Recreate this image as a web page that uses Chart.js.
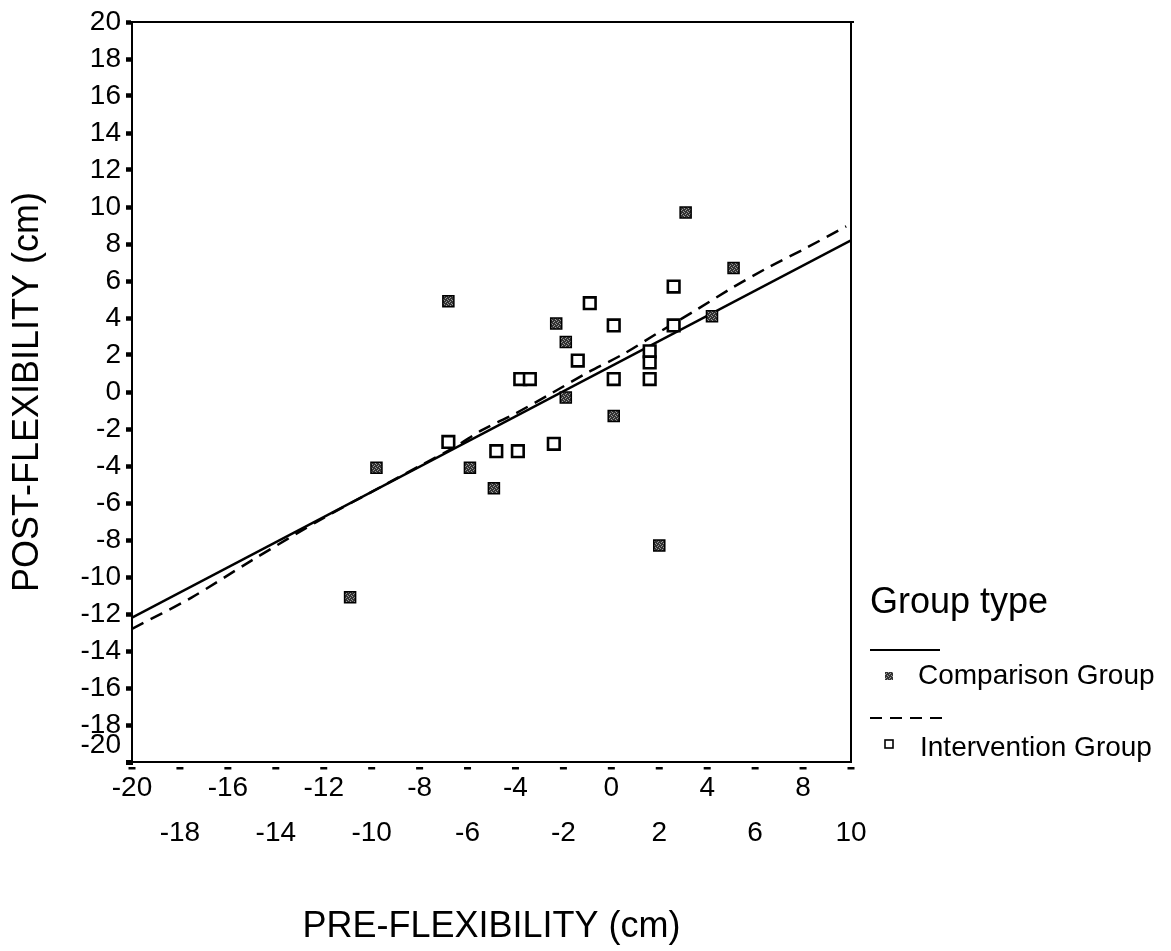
<!DOCTYPE html>
<html>
<head>
<meta charset="utf-8">
<script src="https://cdn.jsdelivr.net/npm/chart.js@4.4.1/dist/chart.umd.min.js"></script>
<style>
  html, body { margin: 0; padding: 0; background: #ffffff; }
  #wrap { width: 1171px; height: 951px; position: relative; }
</style>
</head>
<body>
<div id="wrap"><canvas id="c" width="1171" height="951"></canvas></div>
<script>
// ---------- data ----------
const seriesNames = ['Comparison Group', 'Intervention Group'];
const legendTitle = 'Group type';
const xTitle = 'PRE-FLEXIBILITY (cm)';
const yTitle = 'POST-FLEXIBILITY (cm)';

const xMin = -20, xMax = 10, xStep = 2;
const yMin = -20, yMax = 20, yStep = 2;

const compX = [-6.8, -2.3, -1.9, -1.9, -9.8, -5.9, -4.9, 3.1, 5.1, 4.2, 0.1, 2.0, -10.9];
const compY = [ 4.9,  3.7,  2.7, -0.3, -4.1, -4.1, -5.2, 9.7, 6.7, 4.1, -1.3, -8.3, -11.1];

const intX = [2.6, -0.9, 0.1, 2.6, 1.6, 1.6, 1.6, 0.1, -1.4, -3.8, -3.4, -6.8, -4.8, -3.9, -2.4];
const intY = [5.7,  4.8, 3.6, 3.6, 2.2, 1.6, 0.7, 0.7,  1.7,  0.7,  0.7, -2.7, -3.2, -3.2, -2.8];

// fit lines
const solidX = [-20, 10];
const solidY = [-12.2, 8.2];
const dashX = [-20, -17.5, -15, -12, -10, -8, -6.5, -5.4, -4, -2.5, -1, 0.5, 2, 3.5, 5, 6.5, 8, 9.8];
const dashY = [-12.8, -11.1, -9.1, -6.8, -5.4, -4.0, -2.95, -2.06, -1.16, -0.07, 1.04, 2.05, 3.24, 4.4, 5.6, 6.7, 7.7, 8.95];

// ---------- helpers ----------
const pts = (xs, ys) => xs.map((x, i) => ({ x: x, y: ys[i] }));
const FONT = "'Liberation Sans', Arial, Helvetica, sans-serif";
Chart.defaults.font.family = FONT;
Chart.defaults.color = '#000';

// speckled dark fill, like the scanned halftone markers
function makePattern() {
  const p = document.createElement('canvas');
  p.width = 4; p.height = 4;
  const g = p.getContext('2d');
  g.fillStyle = '#333';
  g.fillRect(0, 0, 4, 4);
  g.fillStyle = '#9a9a9a';
  g.fillRect(0, 0, 1, 1); g.fillRect(2, 1, 1, 1); g.fillRect(1, 2, 1, 1); g.fillRect(3, 3, 1, 1);
  return g.createPattern(p, 'repeat');
}
const compFill = makePattern();

const framePlugin = {
  id: 'frame',
  afterDraw(chart) {
    const ctx = chart.ctx;
    const a = chart.chartArea;
    const xs = chart.scales.x;
    ctx.save();
    // top and right border
    ctx.strokeStyle = '#000';
    ctx.lineWidth = 2;
    ctx.beginPath();
    ctx.moveTo(a.left - 3, a.top);
    ctx.lineTo(a.right + 3, a.top);
    ctx.moveTo(a.right, a.top);
    ctx.lineTo(a.right, a.bottom);
    ctx.stroke();
    // x tick marks: short horizontal dashes below the axis
    ctx.fillStyle = '#000';
    xs.ticks.forEach((t, i) => {
      const px = xs.getPixelForTick(i);
      ctx.fillRect(px - 3.5, a.bottom + 5, 7, 2.5);
    });
    // corner blob
    ctx.fillRect(a.left - 6, a.bottom - 2, 7, 5);

    // ---- legend ----
    const lx = 870;
    ctx.fillStyle = '#000';
    ctx.textBaseline = 'alphabetic';
    ctx.textAlign = 'left';
    ctx.font = '36px ' + FONT;
    ctx.fillText(legendTitle, lx, 613);

    ctx.lineWidth = 2;
    ctx.setLineDash([]);
    ctx.beginPath();
    ctx.moveTo(lx, 650); ctx.lineTo(lx + 70, 650);
    ctx.stroke();

    ctx.fillStyle = compFill;
    ctx.fillRect(885, 672, 8, 8);
    ctx.fillStyle = '#000';
    ctx.font = '28px ' + FONT;
    ctx.fillText(seriesNames[0], 918, 684);

    ctx.setLineDash([12, 8]);
    ctx.beginPath();
    ctx.moveTo(lx, 718); ctx.lineTo(lx + 72, 718);
    ctx.stroke();
    ctx.setLineDash([]);

    ctx.lineWidth = 1.6;
    ctx.strokeRect(885, 740, 8, 8);
    ctx.fillText(seriesNames[1], 920, 756);
    ctx.restore();
  }
};

new Chart(document.getElementById('c'), {
  type: 'scatter',
  data: {
    datasets: [
      {
        label: seriesNames[0],
        data: pts(compX, compY),
        pointStyle: 'rect',
        pointRadius: 7.8,
        pointHoverRadius: 7.8,
        backgroundColor: compFill,
        borderColor: '#000',
        borderWidth: 1.5
      },
      {
        label: seriesNames[1],
        data: pts(intX, intY),
        pointStyle: 'rect',
        pointRadius: 8.2,
        pointHoverRadius: 8.2,
        backgroundColor: '#fff',
        borderColor: '#000',
        borderWidth: 2.6
      },
      {
        label: seriesNames[0] + ' fit',
        data: pts(solidX, solidY),
        showLine: true,
        pointRadius: 0,
        borderColor: '#000',
        borderWidth: 2.5,
        fill: false
      },
      {
        label: seriesNames[1] + ' fit',
        data: pts(dashX, dashY),
        showLine: true,
        pointRadius: 0,
        borderColor: '#000',
        borderWidth: 2.5,
        borderDash: [13, 8],
        tension: 0.3,
        fill: false
      }
    ]
  },
  options: {
    responsive: false,
    animation: false,
    layout: { padding: { top: 22, right: 320, bottom: 0, left: 0 } },
    plugins: {
      legend: { display: false },
      tooltip: { enabled: false }
    },
    scales: {
      x: {
        type: 'linear',
        min: xMin, max: xMax,
        afterFit(s) { s.height = 189; },
        ticks: {
          stepSize: xStep,
          autoSkip: false,
          maxRotation: 0,
          minRotation: 0,
          padding: 4,
          font: { size: 28, lineHeight: 1.6 },
          color: '#000',
          callback(v, i) { return i % 2 === 0 ? String(v) : ['', String(v)]; }
        },
        grid: { display: true, drawOnChartArea: false, drawTicks: false },
        border: { display: true, color: '#000', width: 2 },
        title: {
          display: true,
          text: xTitle,
          font: { size: 36 },
          color: '#000',
          padding: { top: 0, bottom: 2 }
        }
      },
      y: {
        type: 'linear',
        min: yMin, max: yMax,
        afterFit(s) { s.width = 132; },
        ticks: {
          stepSize: yStep,
          autoSkip: false,
          padding: 5,
          font: { size: 28 },
          color: '#000',
          callback(v) { return v === yMin ? [String(v), ''] : String(v); }
        },
        grid: { display: true, drawOnChartArea: false, drawTicks: true, tickLength: 6, tickWidth: 4.5, tickColor: '#000' },
        border: { display: true, color: '#000', width: 2 },
        title: {
          display: true,
          text: yTitle,
          font: { size: 36 },
          color: '#000',
          padding: { top: 6, bottom: 0 }
        }
      }
    }
  },
  plugins: [framePlugin]
});
</script>
</body>
</html>
